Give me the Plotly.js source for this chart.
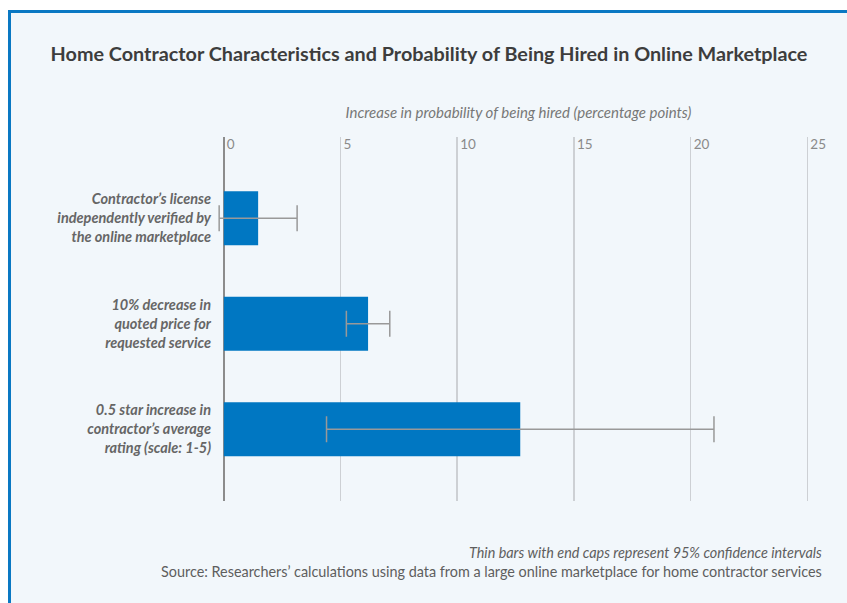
<!DOCTYPE html>
<html>
<head>
<meta charset="utf-8">
<script src="https://cdn.plot.ly/plotly-3.0.1.min.js"></script>
<style>
  html, body { margin: 0; padding: 0; background: #ffffff; width: 847px; height: 603px; overflow: hidden; }
  #frame {
    position: absolute; left: 8px; top: 10px;
    width: 836px; height: 590px;
    border-top: 3px solid #0a78c3; border-left: 3px solid #0a78c3;
    background: #f2f7fb;
  }
  #chart { width: 836px; height: 590px; }
</style>
</head>
<body>
<div id="frame"><div id="chart"></div></div>
<script>
// Characteristics compared (top to bottom)
const characteristics = [
  "Contractor’s license<br>independently verified by<br>the online marketplace",
  "10% decrease in<br>quoted price for<br>requested service",
  "0.5 star increase in<br>contractor’s average<br>rating (scale: 1-5)"
];
// Increase in probability of being hired, percentage points
const effects = [1.47, 6.18, 12.7];
// Half-width of the 95% confidence interval
const ciHalfWidth = [1.67, 0.93, 8.3];
const xTicks = [0, 5, 10, 15, 20, 25];

const trace = {
  type: "bar",
  orientation: "h",
  y: characteristics,
  x: effects,
  width: 0.51,
  marker: { color: "#0077c2" },
  error_x: {
    type: "data",
    array: ciHalfWidth,
    symmetric: true,
    color: "#999999",
    thickness: 1.5,
    width: 13
  },
  hoverinfo: "x+y"
};

const layout = {
  width: 836,
  height: 590,
  paper_bgcolor: "#f2f7fb",
  plot_bgcolor: "#f2f7fb",
  margin: { l: 206.5, r: 28.3, t: 124.3, b: 102.3 },
  showlegend: false,
  title: {
    text: "<b>Home Contractor Characteristics and Probability of Being Hired in Online Marketplace</b>",
    font: { family: "Lato, sans-serif", size: 19.8, color: "#3d3d3d" },
    x: 0.5, xanchor: "center",
    y: 1 - 41 / 590, yanchor: "middle"
  },
  xaxis: {
    side: "top",
    range: [-0.25, 25.5],
    tickvals: xTicks,
    ticktext: xTicks.map(String),
    ticks: "",
    ticklabelposition: "inside right",
    ticklabeloverflow: "allow",
    ticklabelshift: 3,
    ticklabelstandoff: -3,
    tickfont: { family: "Lato, sans-serif", size: 13.5, color: "#8a8a8a" },
    showgrid: true,
    gridcolor: "#cdd0d4",
    gridwidth: 1.5,
    zeroline: true,
    zerolinecolor: "#8c8c8c",
    zerolinewidth: 1.5,
    showline: false,
    fixedrange: true,
    title: {
      text: "<i>Increase in probability of being hired (percentage points)</i>",
      font: { family: "Lato, sans-serif", size: 15, color: "#777777" },
      standoff: 14
    }
  },
  yaxis: {
    type: "category",
    categoryorder: "array",
    categoryarray: characteristics,
    range: [2.68, -0.77],
    showgrid: false,
    zeroline: false,
    showline: false,
    ticks: "",
    ticklabelstandoff: 6,
    tickfont: { family: "Lato, sans-serif", size: 14.5, color: "#666666", weight: "bold", style: "italic" },
    fixedrange: true
  },
  annotations: [
    {
      // Footnote and source, right-aligned under the chart
      xref: "paper", yref: "paper",
      x: 1 + 5 / 601.2, y: -(549 - 487.7) / 363.4,
      xanchor: "right", yanchor: "middle", align: "right", showarrow: false,
      text: "<i>Thin bars with end caps represent 95% confidence intervals</i><br>" +
            "Source: Researchers’ calculations using data from a large online marketplace for home contractor services",
      font: { family: "Lato, sans-serif", size: 14.4, color: "#5e5e5e" }
    }
  ]
};

Plotly.newPlot("chart", [trace], layout, { displayModeBar: false, staticPlot: true });
</script>
</body>
</html>
